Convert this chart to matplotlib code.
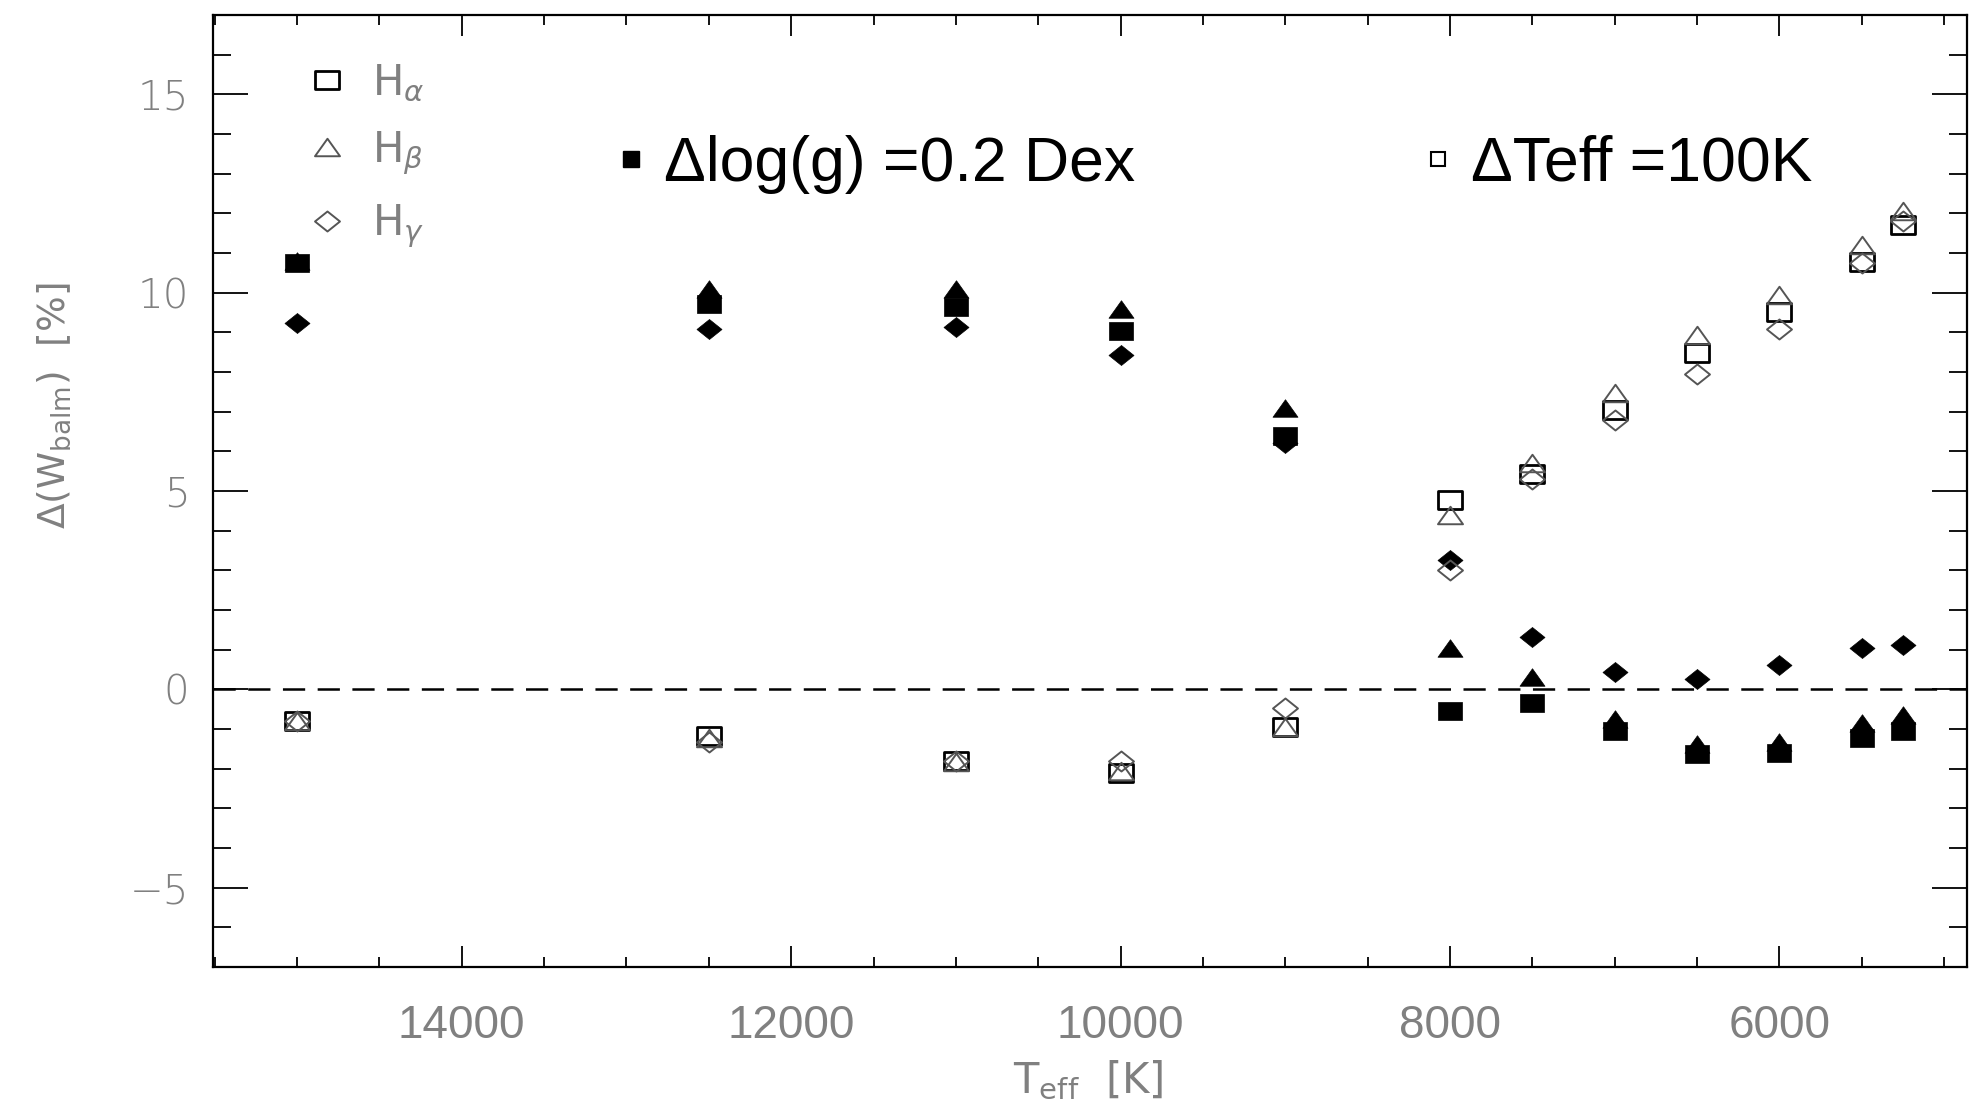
import numpy as np
import matplotlib
matplotlib.use("Agg")
import matplotlib.pyplot as plt
from matplotlib.path import Path
from matplotlib.lines import Line2D
from matplotlib.ticker import MultipleLocator

# Effective temperatures of the model grid [K]
teff = [15000, 12500, 11000, 10000, 9000, 8000, 7500, 7000, 6500, 6000, 5500, 5250]

# Change of Balmer line equivalent width [%] for delta log(g) = 0.2 dex
logg_ha = [10.75, 9.72, 9.63, 9.03, 6.38, -0.54, -0.35, -1.04, -1.62, -1.60, -1.24, -1.04]
logg_hb = [10.80, 10.08, 10.10, 9.59, 7.08, 1.05, 0.30, -0.76, -1.38, -1.32, -0.85, -0.66]
logg_hg = [9.23, 9.09, 9.13, 8.42, 6.20, 3.26, 1.31, 0.43, 0.27, 0.61, 1.05, 1.12]

# Change of Balmer line equivalent width [%] for delta Teff = 100 K
teff_ha = [-0.79, -1.18, -1.81, -2.10, -0.95, 4.78, 5.43, 7.04, 8.47, 9.50, 10.78, 11.71]
teff_hb = [-0.79, -1.22, -1.83, -2.05, -0.95, 4.39, 5.70, 7.48, 8.92, 9.93, 11.20, 12.05]
teff_hg = [-0.79, -1.32, -1.81, -1.80, -0.48, 3.00, 5.30, 6.80, 7.94, 9.08, 10.75, 11.81]

line_labels = [r'H$_\alpha$', r'H$_\beta$', r'H$_\gamma$']


def closed(verts):
    return Path(verts + [verts[0]], closed=True)


# squashed IDL-like plot symbols
SQ = closed([(-1, -0.75), (1, -0.75), (1, 0.75), (-1, 0.75)])
TRI = closed([(-1, -0.7), (1, -0.7), (0, 0.7)])
DIA = closed([(-1, 0), (0, -0.8), (1, 0), (0, 0.8)])

plt.rcParams['lines.scale_dashes'] = False

fig = plt.figure(figsize=(19.8, 11.08), dpi=100)
ax = fig.add_axes([0.1076, 0.1273, 0.8859, 0.8592])

grey = '#808080'
open_styles = [
    dict(marker=SQ, ms=17, mfc='none', mec='black', mew=2.0),
    dict(marker=TRI, ms=18, mfc='none', mec='#555555', mew=1.4),
    dict(marker=DIA, ms=18, mfc='none', mec='#555555', mew=1.4),
]
filled_styles = [
    dict(marker=SQ, ms=17, mfc='black', mec='black', mew=0.5),
    dict(marker=TRI, ms=18, mfc='black', mec='black', mew=0.5),
    dict(marker=DIA, ms=18, mfc='black', mec='black', mew=0.5),
]

ax.axhline(0, color='black', lw=1.8, dashes=(16, 9))

for vals, st in zip([logg_hb, logg_ha, logg_hg], [filled_styles[1], filled_styles[0], filled_styles[2]]):
    ax.plot(teff, vals, ls='none', **st)
for vals, st in zip([teff_ha, teff_hb, teff_hg], open_styles):
    ax.plot(teff, vals, ls='none', **st)

ax.set_xlim(15510, 4860)
ax.set_ylim(-7, 17)

ax.xaxis.set_major_locator(MultipleLocator(2000))
ax.xaxis.set_minor_locator(MultipleLocator(500))
ax.yaxis.set_major_locator(MultipleLocator(5))
ax.yaxis.set_minor_locator(MultipleLocator(1))

ax.tick_params(axis='both', which='both', direction='in', top=True, right=True,
               color='black', width=1.3)
ax.tick_params(axis='y', which='major', length=25, pad=17)
ax.tick_params(axis='y', which='minor', length=13)
ax.tick_params(axis='x', which='major', length=15, pad=27)
ax.tick_params(axis='x', which='minor', length=7)

for lab in ax.get_xticklabels():
    lab.set_family(['Liberation Sans', 'DejaVu Sans'])
    lab.set_fontsize(33)
    lab.set_color(grey)
for lab in ax.get_yticklabels():
    lab.set_family(['DejaVu Sans'])
    lab.set_fontweight('light')
    lab.set_fontsize(29)
    lab.set_color(grey)

for sp in ax.spines.values():
    sp.set_linewidth(1.6)

ax.set_xlabel(r'T$_{\rm eff}$  [K]', fontsize=30, color=grey)
ax.xaxis.set_label_coords(0.499, -0.097)
ax.set_ylabel(r'$\Delta$(W$_{\rm balm}$)  [%]', fontsize=27, color=grey)
ax.yaxis.set_label_coords(-0.08, 0.59)

# legend for the three Balmer lines
handles = [Line2D([], [], ls='none', **st) for st in open_styles]
leg1 = ax.legend(handles, line_labels, loc='upper left', bbox_to_anchor=(0.053, 0.951),
                 frameon=False, fontsize=30, labelcolor=grey, handlelength=1.0,
                 handletextpad=0.58, labelspacing=0.61, borderpad=0, borderaxespad=0)
ax.add_artist(leg1)

# legend for the two perturbations
pert_handles = [
    Line2D([], [], ls='none', marker='s', ms=12, mfc='black', mec='black'),
    Line2D([], [], ls='none', marker='s', ms=10, mfc='white', mec='black', mew=1.5),
]
pert_labels = [u'\u0394log(g) =0.2 Dex', u'\u0394Teff =100K']
leg2 = ax.legend(pert_handles, pert_labels, loc='center left', ncol=2,
                 bbox_to_anchor=(615 / 1980, 1 - 164 / 1108), bbox_transform=fig.transFigure,
                 frameon=False, prop={'family': 'Liberation Sans', 'size': 45},
                 handlelength=0.5, handletextpad=0.28, columnspacing=4.6,
                 borderpad=0, borderaxespad=0)

fig.savefig('out.png', dpi=100)
